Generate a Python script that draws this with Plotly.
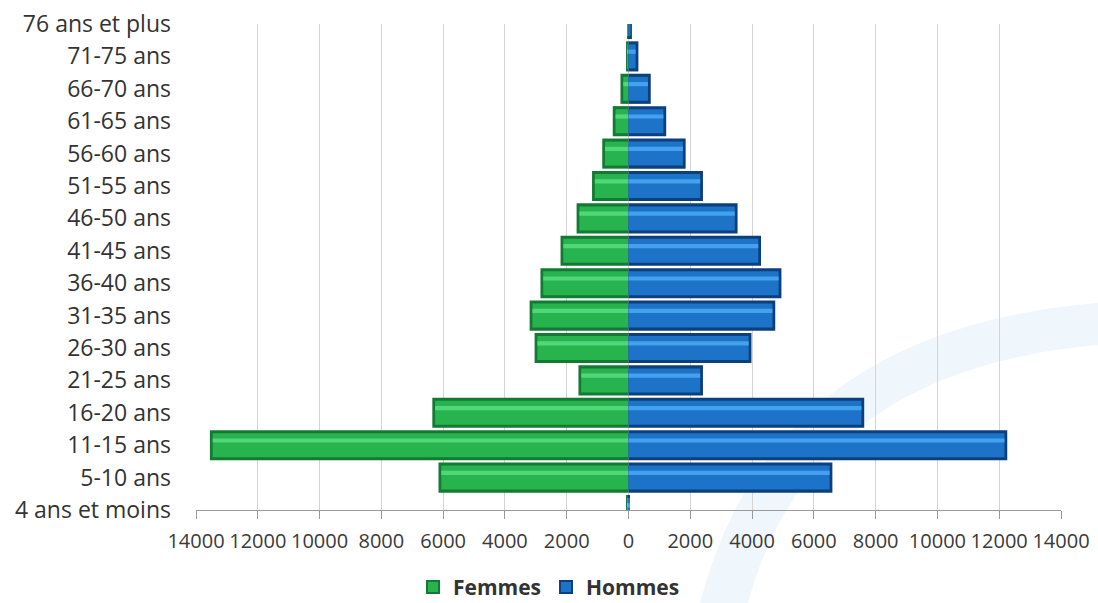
import plotly.graph_objects as go

# ---- data ----
age_groups = ["4 ans et moins", "5-10 ans", "11-15 ans", "16-20 ans", "21-25 ans",
              "26-30 ans", "31-35 ans", "36-40 ans", "41-45 ans", "46-50 ans",
              "51-55 ans", "56-60 ans", "61-65 ans", "66-70 ans", "71-75 ans",
              "76 ans et plus"]
femmes = [80, 6150, 13550, 6350, 1620, 3040, 3200, 2850, 2200, 1680,
          1180, 850, 510, 260, 80, 40]
hommes = [40, 6600, 12260, 7630, 2410, 3980, 4750, 4950, 4290, 3530,
          2410, 1850, 1220, 720, 320, 110]
tick_vals = [-14000, -12000, -10000, -8000, -6000, -4000, -2000, 0,
             2000, 4000, 6000, 8000, 10000, 12000, 14000]
tick_text = ["14000", "12000", "10000", "8000", "6000", "4000", "2000", "0",
             "2000", "4000", "6000", "8000", "10000", "12000", "14000"]

W, H = 1098, 603
ML, MR, MT, MB = 196, 37, 24, 93
PW, PH = W - ML - MR, H - MT - MB

green = dict(dark="#137a33", main="#27b44f", light="#52d678")
blue = dict(dark="#0c3f7c", main="#1c73c8", light="#43a2ee")

femmes_neg = [-v for v in femmes]

fig = go.Figure()


def inner(xs):
    out = []
    for v in xs:
        d = min(abs(v) * 0.4, 90)
        out.append(v - d if v > 0 else v + d)
    return out


def add_series(name, xs, col):
    # dark base (edges)
    fig.add_trace(go.Bar(y=age_groups, x=xs, orientation="h", width=0.93,
                         marker=dict(color=col["dark"], line=dict(width=0)),
                         showlegend=False, hoverinfo="skip"))
    # main body
    fig.add_trace(go.Bar(y=age_groups, x=inner(xs), orientation="h",
                         width=0.74, offset=-0.37,
                         marker=dict(color=col["main"], line=dict(width=0)),
                         showlegend=False, hoverinfo="skip"))
    # highlight strip
    fig.add_trace(go.Bar(y=age_groups, x=inner(xs), orientation="h",
                         width=0.13, offset=0.08,
                         marker=dict(color=col["light"], line=dict(width=0)),
                         showlegend=False, hoverinfo="skip"))
    # legend entry
    fig.add_trace(go.Bar(y=[None], x=[None], orientation="h", name=name,
                         marker=dict(color=col["main"], line=dict(color=col["dark"], width=2))))


add_series("Femmes", femmes_neg, green)
add_series("Hommes", hommes, blue)


def px(x, y):
    return (x - ML) / PW, (H - MB - y) / PH


def path(points):
    s = ""
    for cmd, pts in points:
        s += cmd + " " + " ".join("%.4f,%.4f" % px(*p) for p in pts) + " "
    return s + "Z"


wm = "rgba(220,236,249,0.45)"
shapes = [
    dict(type="path", xref="paper", yref="paper", layer="below",
         path=path([("M", [(700, 603)]), ("Q", [(770, 330), (1098, 303)]),
                    ("L", [(1098, 345)]), ("Q", [(810, 370), (748, 603)])]),
         fillcolor=wm, line=dict(width=0)),
    dict(type="path", xref="paper", yref="paper", layer="below",
         path=path([("M", [(1045, 395)]), ("L", [(1098, 395), (1098, 430), (985, 603), (935, 603)])]),
         fillcolor=wm, line=dict(width=0)),
]

fig.update_layout(
    width=W, height=H,
    margin=dict(l=ML, r=MR, t=MT, b=MB, pad=0, autoexpand=False),
    paper_bgcolor="white", plot_bgcolor="white",
    barmode="overlay", bargap=0.07,
    font=dict(family="Open Sans", color="#3a3a3a"),
    shapes=shapes,
    legend=dict(orientation="h", xref="container", yref="container",
                x=0.5, xanchor="center", y=0.026, yanchor="middle",
                font=dict(family="Open Sans", size=21, color="#333333", weight="bold"),
                itemwidth=30, bgcolor="rgba(0,0,0,0)", traceorder="normal"),
    xaxis=dict(range=[-14000, 14000], tickvals=tick_vals, ticktext=tick_text,
               showgrid=True, gridcolor="#d4d4d4", gridwidth=1, zeroline=False,
               showline=True, linecolor="#9a9a9a", linewidth=1,
               ticks="outside", ticklen=8, tickcolor="#9a9a9a",
               tickfont=dict(family="Open Sans", size=20, color="#3a3a3a"),
               ticklabelstandoff=5, fixedrange=True),
    yaxis=dict(type="category", categoryorder="array", categoryarray=age_groups,
               range=[0, 15], showgrid=False, zeroline=False, showline=False,
               ticks="", tickfont=dict(family="Open Sans", size=23, color="#333333"),
               ticklabelstandoff=24, fixedrange=True),
)

fig.write_html("out.html")
